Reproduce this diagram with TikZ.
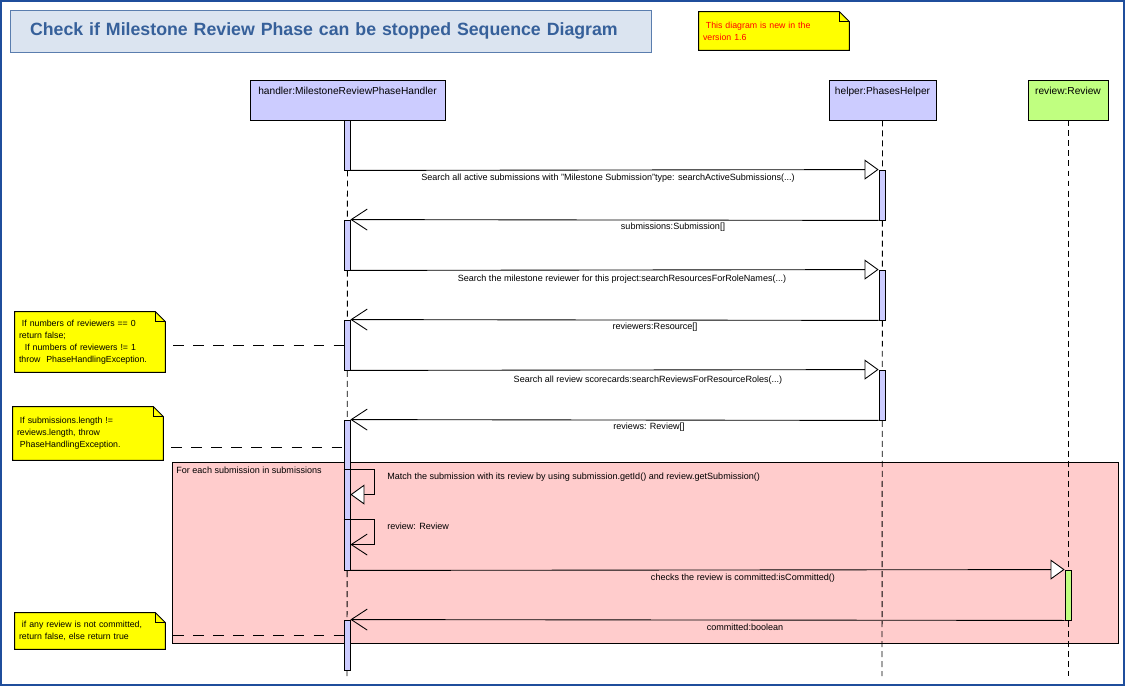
\documentclass[tikz,border=0pt]{standalone}
\usepackage{fontspec}
\setmainfont{Liberation Sans}
\usetikzlibrary{arrows.meta, positioning, backgrounds}
\definecolor{frameBlue}{HTML}{1F4E9C}
\definecolor{titleFill}{HTML}{DBE4F0}
\definecolor{titleLine}{HTML}{5A7DAE}
\definecolor{titleText}{HTML}{36609A}
\definecolor{objFill}{HTML}{CCCCFF}
\definecolor{entityFill}{HTML}{C0FF80}
\definecolor{loopFill}{HTML}{FFCCCC}
\definecolor{noteFill}{HTML}{FFFF00}
\definecolor{noteRed}{HTML}{FF0000}
\tikzset{
  font=\fontsize{5.15pt}{6.9pt}\selectfont,
  titlebox/.style={rectangle, draw=titleLine, line width=0.5pt, fill=titleFill, text=titleText,
                   minimum width=12.82cm, minimum height=0.84cm, inner xsep=0.4cm,
                   text width=12.02cm, align=left, font=\bfseries\fontsize{10.1pt}{11pt}\selectfont},
  lifebox/.style={rectangle, draw=black, line width=0.5pt, fill=objFill, inner sep=0pt,
                  minimum height=0.8cm, text height=0.28cm, text depth=0.52cm,
                  font=\fontsize{5.8pt}{6.9pt}\selectfont},
  actbar/.style={rectangle, draw=black, line width=0.5pt, fill=objFill, inner sep=0pt,
                 minimum width=0.12cm, minimum height=1cm},
  notebox/.style={rectangle, inner xsep=0.08cm, inner ysep=0pt, minimum width=3cm,
                  text width=2.84cm, align=left, font=\fontsize{5pt}{6.9pt}\selectfont},
  loopframe/.style={draw=black, line width=0.5pt, fill=loopFill},
  lifeline/.style={draw=black, line width=0.5pt, dash pattern=on 3.4pt off 2.3pt},
  noteline/.style={draw=black, line width=0.5pt, dash pattern=on 6pt off 5.4pt, shorten <=0.16cm},
  call/.style={-{Triangle[fill=white, length=0.28cm, width=0.4cm]}, draw=black, line width=0.5pt},
  ret/.style={-{Straight Barb[length=0.32cm, width=0.42cm]}, draw=black, line width=0.5pt},
  msglbl/.style={inner sep=0pt},
}

\begin{document}
\begin{tikzpicture}[x=0.02cm, y=-0.02cm]
\useasboundingbox (0,0) rectangle (1125,686);

% --- title and version note ---
\node[titlebox] (title) at (330.5,31) {Check if Milestone Review Phase can be stopped Sequence Diagram};
\node[notebox, minimum height=0.76cm, text=noteRed] (noteTop) at (774,31)
  {\ This diagram is new in the\\version 1.6};

% --- loop fragment (behind lifelines) ---
\draw[loopframe] (172,462) rectangle (1118,643);
\node[msglbl, anchor=west] (lblLoop) at (176,470) {For each submission in submissions};

% --- objects and lifelines ---
\node[lifebox, minimum width=3.9cm] (handler) at (347.5,100) {handler:MilestoneReviewPhaseHandler};
\node[lifebox, minimum width=2.14cm] (helper) at (882.5,100) {helper:PhasesHelper};
\node[lifebox, minimum width=1.6cm, fill=entityFill] (review) at (1068,100) {review:Review};

\coordinate (handlerEnd) at (347,676);
\coordinate (helperEnd) at (882,676);
\coordinate (reviewEnd) at (1068,676);
\draw[lifeline] (handler.south) -- (handlerEnd);
\draw[lifeline] (helper.south) -- (helperEnd);
\draw[lifeline] (review.south) -- (reviewEnd);

% --- activation bars ---
\node[actbar] (hb1) at (347,145) {};
\node[actbar] (hb2) at (347,245) {};
\node[actbar] (hb3) at (347,345) {};
\node[actbar, minimum height=3cm] (hb4) at (347,495) {};
\node[actbar] (hb5) at (347,645) {};
\node[actbar] (pb1) at (882,195) {};
\node[actbar] (pb2) at (882,295) {};
\node[actbar] (pb3) at (882,395) {};
\node[actbar, fill=entityFill] (rb1) at (1068,595) {};

% --- messages to helper ---
\draw[call] (hb1.south east) -- (pb1.north west);
\draw[ret]  (pb1.south west) -- (hb2.north east);
\draw[call] (hb2.south east) -- (pb2.north west);
\draw[ret]  (pb2.south west) -- (hb3.north east);
\draw[call] (hb3.south east) -- (pb3.north west);
\draw[ret]  (pb3.south west) -- (hb4.north east);

\node[msglbl] (lblActive) at (608,178)
  {Search all active submissions with "Milestone Submission"type: searchActiveSubmissions(...)};
\node[msglbl] (lblSubs) at (673,227) {submissions:Submission[]};
\node[msglbl] (lblReviewer) at (622,279)
  {Search the milestone reviewer for this project:searchResourcesForRoleNames(...)};
\node[msglbl] (lblRes) at (655,327) {reviewers:Resource[]};
\node[msglbl] (lblScore) at (648,380) {Search all review scorecards:searchReviewsForResourceRoles(...)};
\node[msglbl] (lblReviews) at (649,427) {reviews: Review[]};

% --- self calls inside the loop ---
\draw[call] ([yshift=-1cm]hb4.north west) -- ++(31,0) |- ([yshift=-1.5cm]hb4.north east);
\draw[ret]  ([yshift=-2cm]hb4.north west) -- ++(31,0) |- ([yshift=-2.5cm]hb4.north east);
\node[msglbl, anchor=west] (lblMatch) at (387,477)
  {Match the submission with its review by using submission.getId() and review.getSubmission()};
\node[msglbl, anchor=west] (lblRev) at (387,526) {review: Review};

% --- messages to review ---
\draw[call] (hb4.south east) -- (rb1.north west);
\draw[ret]  (rb1.south west) -- (hb5.north east);
\node[msglbl] (lblCommit) at (743,578) {checks the review is committed:isCommitted()};
\node[msglbl] (lblBool) at (745,627) {committed:boolean};

% --- notes on the left ---
\node[notebox, minimum height=1.2cm] (noteA) at (90,342)
  {\ If numbers of reviewers == 0\\return false;\\\ \ If numbers of reviewers != 1\\throw\ \ PhaseHandlingException.};
\node[notebox, minimum height=1.06cm] (noteB) at (88,433.5)
  {\ If submissions.length !=\\reviews.length, throw\\\ PhaseHandlingException.};
\node[notebox, minimum height=0.72cm] (noteC) at (90,631)
  {\ if any review is not committed,\\return false, else return true};

\coordinate (hb4n) at ([yshift=-0.56cm]hb4.north west);
\coordinate (hb5n) at ([yshift=-0.32cm]hb5.north west);
\draw[noteline] (noteA.east |- hb3.west) -- (hb3.west);
\draw[noteline] (noteB.east |- hb4n) -- (hb4n);
\draw[noteline] (noteC.east |- hb5n) -- (hb5n);

% note shapes with folded corner
\begin{scope}[on background layer]
  \foreach \n in {noteTop, noteA, noteB, noteC} {
    \draw[fill=noteFill, line width=0.5pt] (\n.south west) -- (\n.north west)
      -- ([xshift=-0.2cm]\n.north east) -- ([yshift=-0.2cm]\n.north east)
      -- (\n.south east) -- cycle;
    \draw[line width=0.5pt] ([xshift=-0.2cm]\n.north east) |- ([yshift=-0.2cm]\n.north east);
  }
\end{scope}

% outer border
\draw[frameBlue, line width=1.2pt] (1,1) rectangle (1124,685);
\end{tikzpicture}
\end{document}
